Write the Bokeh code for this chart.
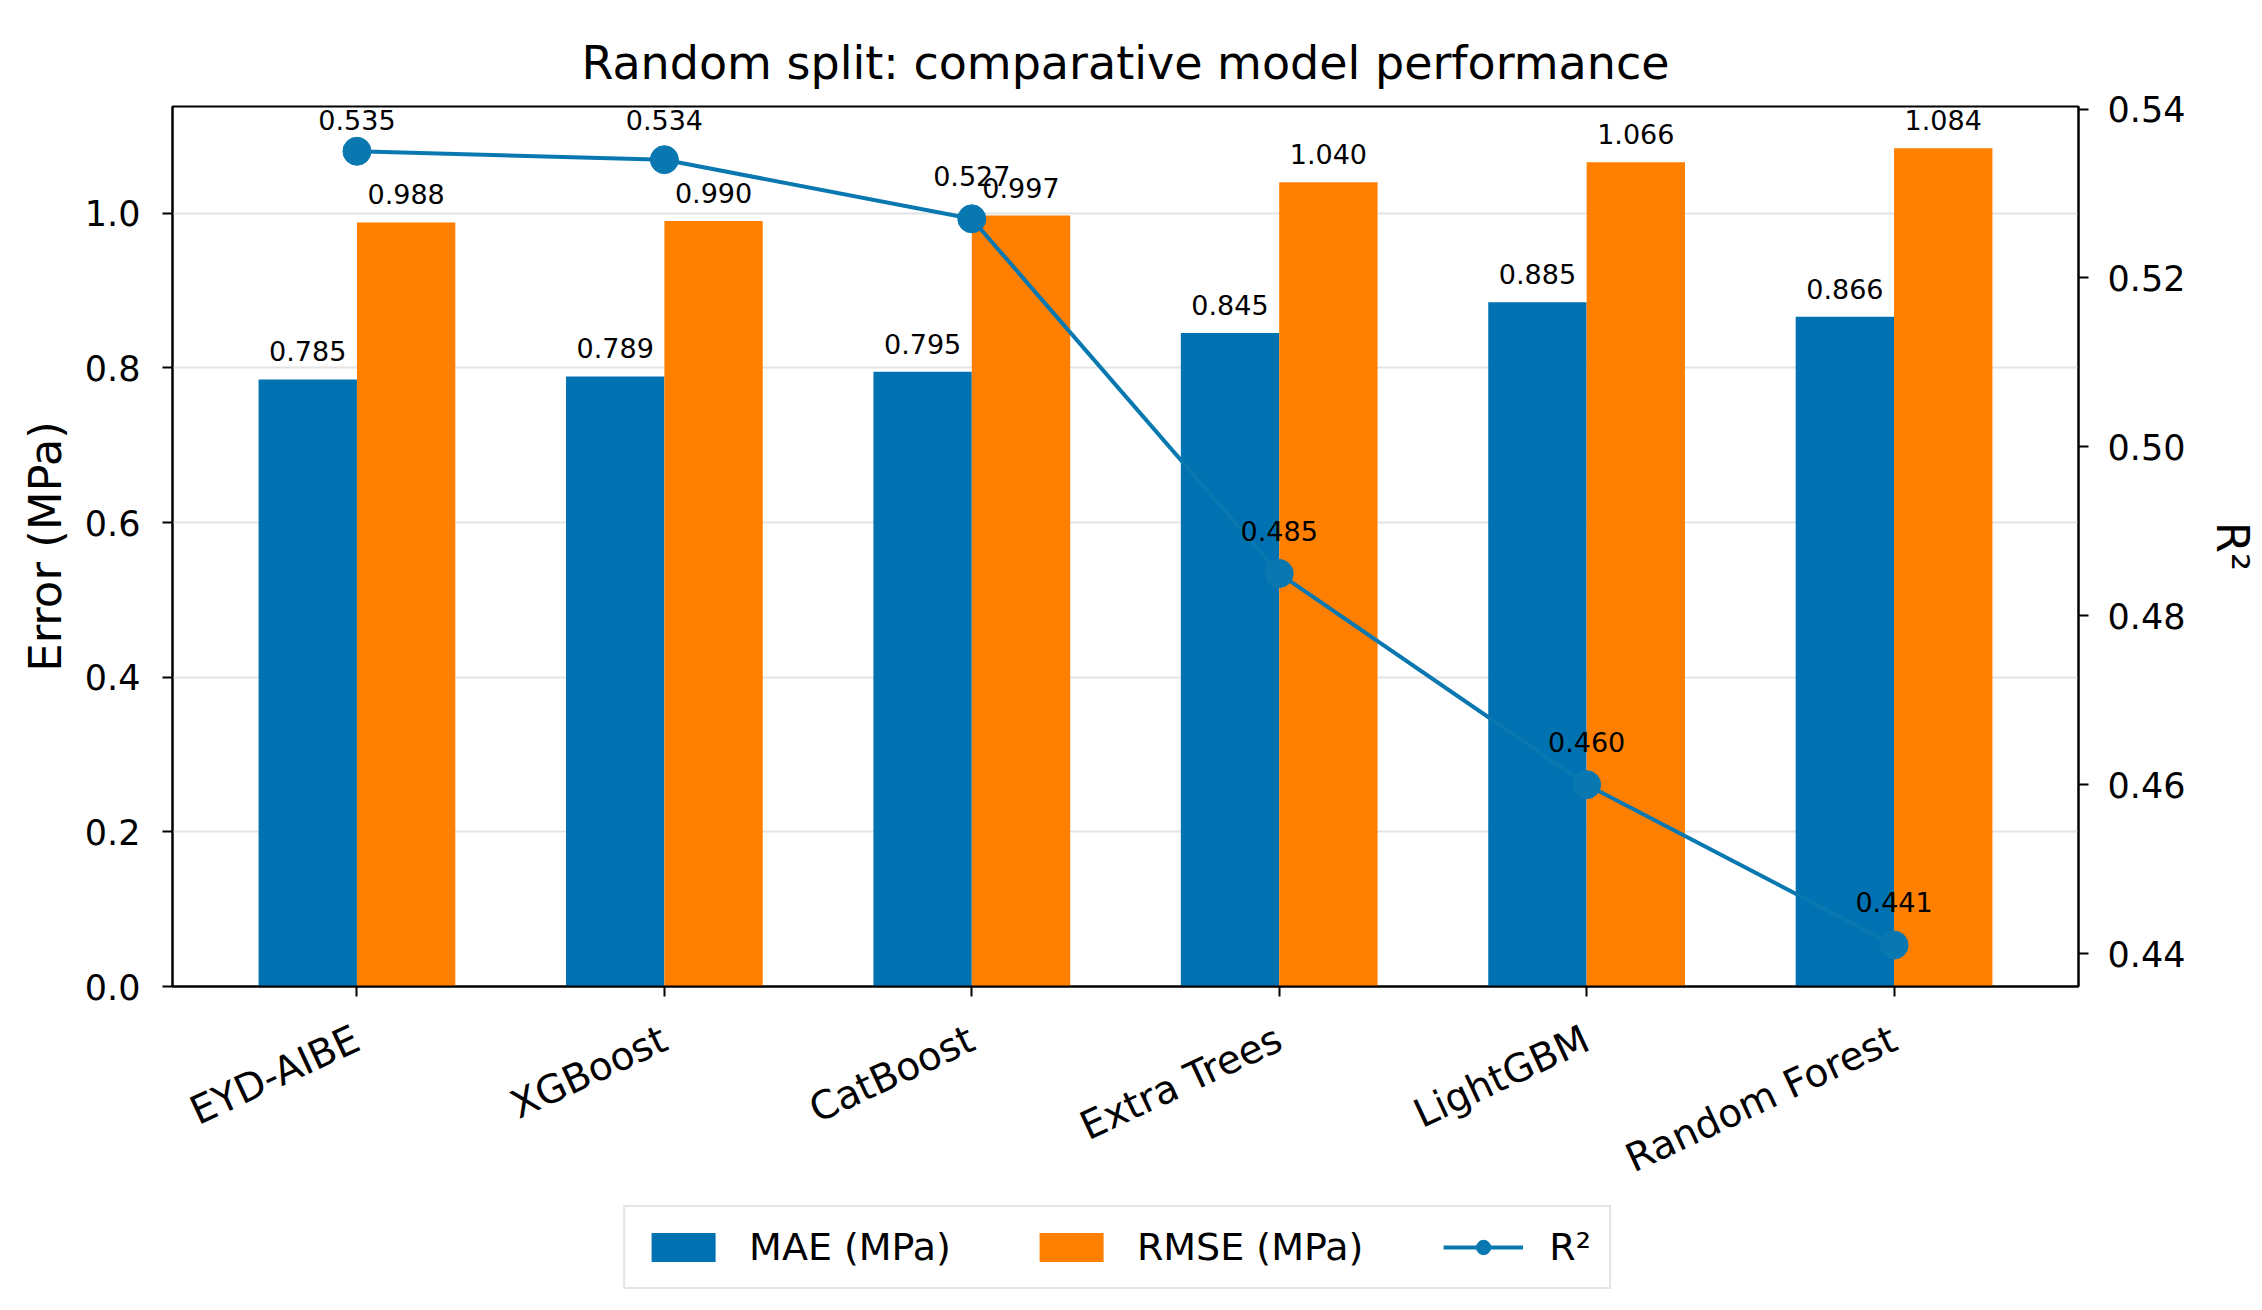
import numpy as np
from bokeh.plotting import figure
from bokeh.layouts import column
from bokeh.models import (Range1d, LinearAxis, FixedTicker, PrintfTickFormatter,
                          ColumnDataSource, LabelSet, Legend, LegendItem)
from bokeh.core.properties import value
from bokeh.embed import file_html
from bokeh.resources import INLINE
import math

# ---- data ----
models = ["EYD-AIBE", "XGBoost", "CatBoost", "Extra Trees", "LightGBM", "Random Forest"]
mae = [0.785, 0.789, 0.795, 0.845, 0.885, 0.866]
rmse = [0.988, 0.990, 0.997, 1.040, 1.066, 1.084]
r2 = [0.535, 0.534, 0.527, 0.485, 0.460, 0.441]
left_ticks = [0.0, 0.2, 0.4, 0.6, 0.8, 1.0]
right_ticks = [0.44, 0.46, 0.48, 0.50, 0.52, 0.54]

BLUE = "#0072B2"
ORANGE = "#FF7F00"
LINE = "#0a78b0"
FONT = "DejaVu Sans"
bw = 0.32

W = 2246
MAIN_H = 1194
LEG_H = 100
FRAME_H = 880
R2_LO, R2_HI = 0.4361, 0.5403

xs = np.arange(len(models), dtype=float)

p = figure(frame_width=1906, frame_height=FRAME_H, output_backend="svg", toolbar_location=None,
           x_range=Range1d(-0.6, len(models) - 0.4), y_range=Range1d(0, 1.138),
           min_border_left=172, min_border_right=168, min_border_top=106,
           min_border_bottom=MAIN_H - 106 - FRAME_H)
p.extra_y_ranges = {"r2": Range1d(R2_LO, R2_HI)}

p.title.text = "Random split: comparative model performance"
p.title.text_font = FONT
p.title.text_font_size = "46px"
p.title.text_font_style = "normal"
p.title.text_color = "black"
p.title.align = "center"
p.title.standoff = 34

p.outline_line_color = "black"
p.outline_line_width = 2
p.background_fill_color = "white"
p.border_fill_color = "white"

p.xgrid.visible = False
p.ygrid.grid_line_color = "#e4e4e4"
p.ygrid.grid_line_width = 2
p.ygrid.ticker = FixedTicker(ticks=left_ticks)

# bars
src_mae = ColumnDataSource(dict(x=xs - bw / 2, top=mae, lab=[f"{v:.3f}" for v in mae]))
src_rmse = ColumnDataSource(dict(x=xs + bw / 2, top=rmse, lab=[f"{v:.3f}" for v in rmse]))
p.vbar(x="x", top="top", width=bw, source=src_mae, fill_color=BLUE, line_color=None)
p.vbar(x="x", top="top", width=bw, source=src_rmse, fill_color=ORANGE, line_color=None)

# R2 line; label offsets kept inside the frame (labels are clipped at the frame edge)
room = [(R2_HI - v) / (R2_HI - R2_LO) * FRAME_H - 23 for v in r2]
r2_off = [min(33.0, r) for r in room]
src_r2 = ColumnDataSource(dict(x=xs, y=r2, lab=[f"{v:.3f}" for v in r2], off=r2_off))
p.line(x="x", y="y", source=src_r2, line_color=LINE, line_width=4, y_range_name="r2")
p.scatter(x="x", y="y", source=src_r2, size=28, fill_color=LINE, line_color=LINE,
          y_range_name="r2")

# value labels
for src in (src_mae, src_rmse):
    p.add_layout(LabelSet(x="x", y="top", text="lab", source=src, y_offset=18,
                          text_align="center", text_baseline="alphabetic",
                          text_font=value(FONT), text_font_size=value("27px"),
                          text_color="black"))
p.add_layout(LabelSet(x="x", y="y", text="lab", source=src_r2, y_offset="off", y_range_name="r2",
                      text_align="center", text_baseline="alphabetic",
                      text_font=value(FONT), text_font_size=value("27px"),
                      text_color="black"))


def style_axis(ax, size="35px"):
    ax.major_label_text_font = FONT
    ax.major_label_text_font_size = size
    ax.major_label_text_color = "black"
    ax.axis_label_text_font = FONT
    ax.axis_label_text_font_size = "45px"
    ax.axis_label_text_font_style = "normal"
    ax.axis_label_text_color = "black"
    ax.minor_tick_line_color = None
    ax.major_tick_out = 10
    ax.major_tick_in = 0
    ax.major_tick_line_width = 2
    ax.major_tick_line_color = "black"
    ax.axis_line_width = 2
    ax.axis_line_color = "black"


# x axis
xa = p.xaxis[0]
xa.ticker = FixedTicker(ticks=list(xs))
xa.major_label_overrides = {float(i): m for i, m in enumerate(models)}
xa.major_label_orientation = math.radians(25)
xa.major_label_standoff = 40
style_axis(xa, "39px")

# left axis
ya = p.yaxis[0]
ya.ticker = FixedTicker(ticks=left_ticks)
ya.formatter = PrintfTickFormatter(format="%.1f")
ya.axis_label = "Error (MPa)"
ya.axis_label_standoff = 10
ya.major_label_standoff = 22
style_axis(ya)

# right axis
ra = LinearAxis(y_range_name="r2", ticker=FixedTicker(ticks=right_ticks),
                formatter=PrintfTickFormatter(format="%.2f"))
ra.axis_label = "R²"
ra.axis_label_standoff = 18
ra.major_label_standoff = 19
style_axis(ra)
p.add_layout(ra, "right")

# legend strip below the chart: same renderers' styles, drawn off-range so only the legend shows
lf = figure(width=W, height=LEG_H, output_backend="svg", toolbar_location=None,
            x_range=Range1d(100, 101), y_range=Range1d(100, 101),
            x_axis_type=None, y_axis_type=None,
            min_border_left=0, min_border_right=0, min_border_top=0, min_border_bottom=0)
lf.outline_line_color = None
lf.grid.visible = False
lf.background_fill_color = "white"
lf.border_fill_color = "white"
l_mae = lf.vbar(x="x", top="top", width=bw, source=src_mae, fill_color=BLUE, line_color=None)
l_rmse = lf.vbar(x="x", top="top", width=bw, source=src_rmse, fill_color=ORANGE, line_color=None)
l_line = lf.line(x="x", y="y", source=src_r2, line_color=LINE, line_width=4)
l_pts = lf.scatter(x="x", y="y", source=src_r2, size=28, fill_color=LINE, line_color=LINE)

legend = Legend(items=[LegendItem(label="MAE (MPa)", renderers=[l_mae]),
                       LegendItem(label="RMSE (MPa)", renderers=[l_rmse]),
                       LegendItem(label="R²", renderers=[l_line, l_pts])],
                orientation="horizontal", location="top")
legend.label_text_font = FONT
legend.label_text_font_size = "38px"
legend.label_text_color = "black"
legend.glyph_width = 80
legend.glyph_height = 36
legend.label_standoff = 26
legend.spacing = 80
legend.padding = 18
legend.margin = 1
legend.border_line_color = "#cccccc"
legend.border_line_width = 2
legend.background_fill_color = "white"
lf.add_layout(legend, "center")

layout = column(p, lf, spacing=0)
open("out.html", "w").write(file_html(layout, INLINE))
